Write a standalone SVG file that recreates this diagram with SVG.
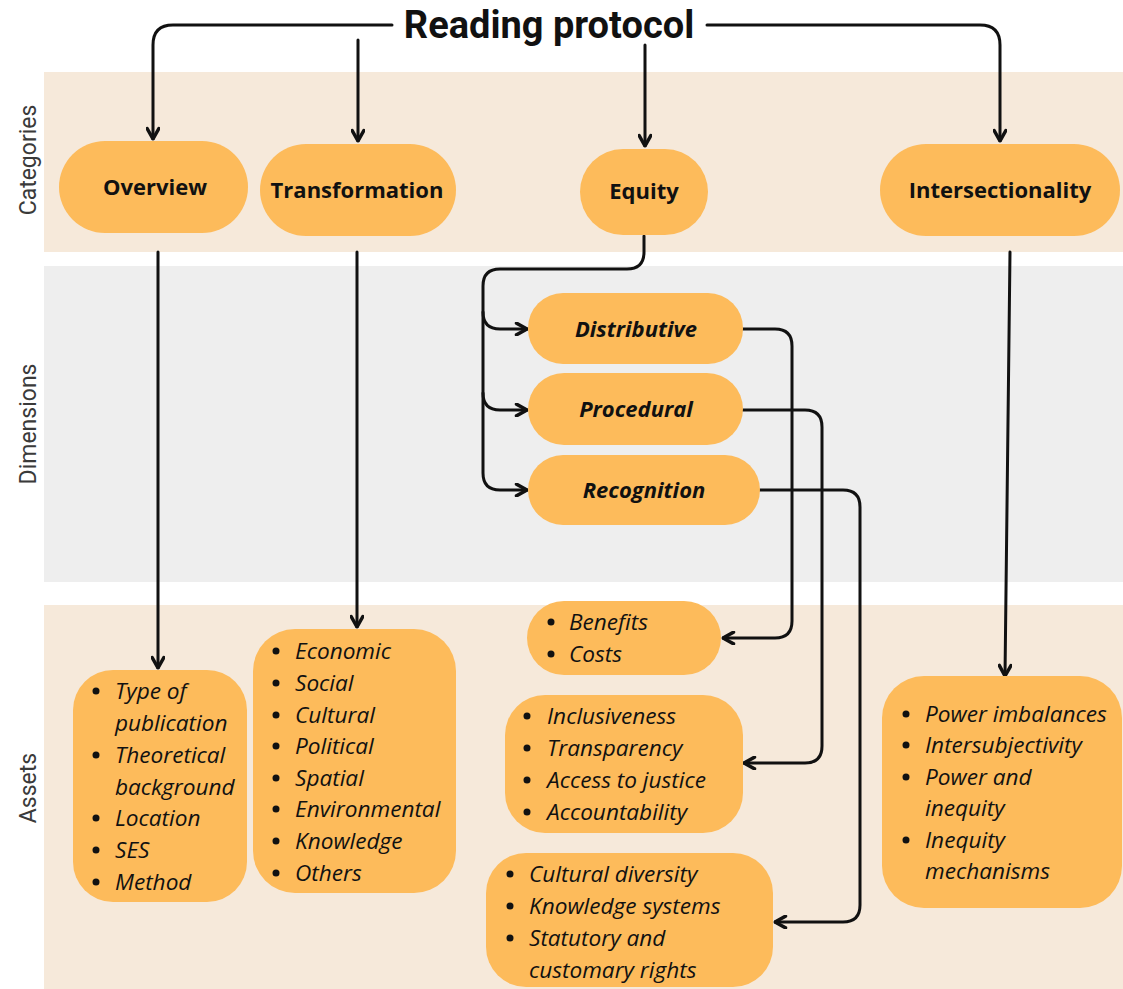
<svg xmlns="http://www.w3.org/2000/svg" width="1123" height="989" viewBox="0 0 1123 989">
<style>
.band-b{fill:#f6e9da}
.band-g{fill:#eeeeee}
.pill{fill:#fdbb5b}
.side{font-family:Roboto,"Liberation Sans",sans-serif;font-size:23px;fill:#3a3a3a}
.cat{font-family:"Open Sans","Liberation Sans",sans-serif;font-size:22px;font-weight:bold;fill:#111;text-anchor:middle}
.dim{font-family:"Open Sans","Liberation Sans",sans-serif;font-size:22px;font-weight:bold;font-style:italic;fill:#111;text-anchor:middle}
.it{font-family:"Open Sans","Liberation Sans",sans-serif;font-size:22.6px;font-style:italic;fill:#111}
.conn{fill:none;stroke:#111;stroke-width:3;stroke-linecap:round;stroke-linejoin:round}
</style>
<defs>
<marker id="ah" viewBox="0 0 12 12" refX="11" refY="6" markerWidth="14" markerHeight="14" markerUnits="userSpaceOnUse" orient="auto">
<path d="M2,1 L11,6 L2,11" fill="none" stroke="#111" stroke-width="3" stroke-linecap="round" stroke-linejoin="round"/>
</marker>
</defs>
<rect width="1123" height="989" fill="#ffffff"/>
<rect class="band-b" x="44" y="72" width="1079" height="180"/>
<rect class="band-g" x="44" y="266" width="1079" height="316"/>
<rect class="band-b" x="44" y="605" width="1079" height="384"/>
<text class="side" transform="translate(36,160) rotate(-90)" text-anchor="middle">Categories</text>
<text class="side" transform="translate(36,424) rotate(-90)" text-anchor="middle">Dimensions</text>
<text class="side" transform="translate(36,788) rotate(-90)" text-anchor="middle">Assets</text>

<g id="title"><text x="549" y="38" font-family="Roboto,'Liberation Sans',sans-serif" font-size="38" font-weight="bold" fill="#111" text-anchor="middle">Reading protocol</text></g>

<g id="connectors">
<path class="conn" marker-end="url(#ah)" d="M392,25 H173 Q153,25 153,45 V139"/>
<path class="conn" marker-end="url(#ah)" d="M358,40 V141"/>
<path class="conn" marker-end="url(#ah)" d="M645,45 V146"/>
<path class="conn" marker-end="url(#ah)" d="M707,25 H980 Q1000,25 1000,45 V141"/>
<path class="conn" marker-end="url(#ah)" d="M158,252 V668"/>
<path class="conn" marker-end="url(#ah)" d="M357,252 V627"/>
<path class="conn" marker-end="url(#ah)" d="M1010,252 L1005,676"/>
<path class="conn" marker-end="url(#ah)" d="M644,236 V252 Q644,269 627,269 H500 Q483,269 483,286 V473 Q483,490 500,490 H527"/>
<path class="conn" marker-end="url(#ah)" d="M483,312 Q483,329 500,329 H527"/>
<path class="conn" marker-end="url(#ah)" d="M483,393 Q483,410 500,410 H527"/>
<path class="conn" marker-end="url(#ah)" d="M743,329 H775 Q792,329 792,346 V621 Q792,638 775,638 H723"/>
<path class="conn" marker-end="url(#ah)" d="M743,410 H805 Q822,410 822,427 V746 Q822,763 805,763 H744"/>
<path class="conn" marker-end="url(#ah)" d="M760,490 H843 Q860,490 860,507 V905 Q860,922 843,922 H775"/>
</g>

<g id="overview"><rect class="pill" x="59" y="141" width="189" height="92" rx="46"/><text class="cat" x="155" y="195">Overview</text></g>
<g id="transformation"><rect class="pill" x="260" y="144" width="196" height="92" rx="46"/><text class="cat" x="357" y="198">Transformation</text></g>
<g id="equity"><rect class="pill" x="580" y="149" width="128" height="86" rx="43"/><text class="cat" x="644" y="199">Equity</text></g>
<g id="intersectionality"><rect class="pill" x="880" y="144" width="240" height="92" rx="46"/><text class="cat" x="1000" y="198">Intersectionality</text></g>

<g id="distributive"><rect class="pill" x="528" y="293" width="215" height="71" rx="35"/><text class="dim" x="636" y="337">Distributive</text></g>
<g id="procedural"><rect class="pill" x="528" y="373" width="215" height="72" rx="36"/><text class="dim" x="636" y="417">Procedural</text></g>
<g id="recognition"><rect class="pill" x="528" y="455" width="232" height="70" rx="35"/><text class="dim" x="644" y="498">Recognition</text></g>

<g id="assets-overview"><rect class="pill" x="73" y="670" width="174" height="232" rx="40"/>
<g class="it">
<circle cx="96" cy="691" r="3.5"/><text x="115" y="699">Type of</text>
<text x="115" y="731">publication</text>
<circle cx="96" cy="755" r="3.5"/><text x="115" y="763">Theoretical</text>
<text x="115" y="795">background</text>
<circle cx="96" cy="818" r="3.5"/><text x="115" y="826">Location</text>
<circle cx="96" cy="850" r="3.5"/><text x="115" y="858">SES</text>
<circle cx="96" cy="882" r="3.5"/><text x="115" y="890">Method</text>
</g></g>

<g id="assets-transformation"><rect class="pill" x="253" y="629" width="203" height="264" rx="42"/>
<g class="it">
<circle cx="276" cy="651" r="3.5"/><text x="295" y="659">Economic</text>
<circle cx="276" cy="683" r="3.5"/><text x="295" y="691">Social</text>
<circle cx="276" cy="715" r="3.5"/><text x="295" y="723">Cultural</text>
<circle cx="276" cy="746" r="3.5"/><text x="295" y="754">Political</text>
<circle cx="276" cy="778" r="3.5"/><text x="295" y="786">Spatial</text>
<circle cx="276" cy="809" r="3.5"/><text x="295" y="817">Environmental</text>
<circle cx="276" cy="841" r="3.5"/><text x="295" y="849">Knowledge</text>
<circle cx="276" cy="873" r="3.5"/><text x="295" y="881">Others</text>
</g></g>

<g id="assets-distributive"><rect class="pill" x="527" y="601" width="194" height="74" rx="37"/>
<g class="it">
<circle cx="551" cy="622" r="3.5"/><text x="569" y="630">Benefits</text>
<circle cx="551" cy="654" r="3.5"/><text x="569" y="662">Costs</text>
</g></g>

<g id="assets-procedural"><rect class="pill" x="505" y="695" width="238" height="138" rx="40"/>
<g class="it">
<circle cx="527" cy="716" r="3.5"/><text x="547" y="724">Inclusiveness</text>
<circle cx="527" cy="748" r="3.5"/><text x="547" y="756">Transparency</text>
<circle cx="527" cy="780" r="3.5"/><text x="547" y="788">Access to justice</text>
<circle cx="527" cy="812" r="3.5"/><text x="547" y="820">Accountability</text>
</g></g>

<g id="assets-recognition"><rect class="pill" x="486" y="853" width="287" height="134" rx="40"/>
<g class="it">
<circle cx="510" cy="874" r="3.5"/><text x="529" y="882">Cultural diversity</text>
<circle cx="510" cy="906" r="3.5"/><text x="529" y="914">Knowledge systems</text>
<circle cx="510" cy="938" r="3.5"/><text x="529" y="946">Statutory and</text>
<text x="529" y="978">customary rights</text>
</g></g>

<g id="assets-intersectionality"><rect class="pill" x="882" y="676" width="240" height="232" rx="42"/>
<g class="it">
<circle cx="906" cy="714" r="3.5"/><text x="925" y="722">Power imbalances</text>
<circle cx="906" cy="745" r="3.5"/><text x="925" y="753">Intersubjectivity</text>
<circle cx="906" cy="777" r="3.5"/><text x="925" y="785">Power and</text>
<text x="925" y="816">inequity</text>
<circle cx="906" cy="840" r="3.5"/><text x="925" y="848">Inequity</text>
<text x="925" y="879">mechanisms</text>
</g></g>
</svg>
